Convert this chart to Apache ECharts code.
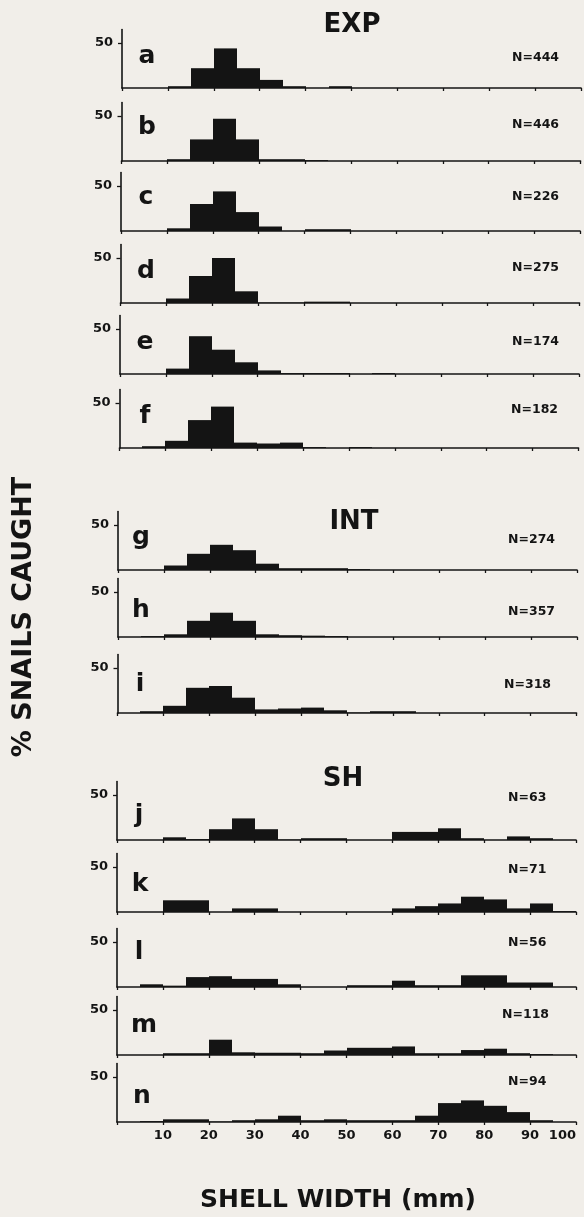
<!DOCTYPE html>
<html>
<head>
<meta charset="utf-8">
<script src="https://cdn.jsdelivr.net/npm/echarts@6/dist/echarts.min.js"></script>
<style>
html,body{margin:0;padding:0;background:#f1eee9;}
#chart{width:584px;height:1217px;}
</style>
</head>
<body>
<div id="chart"></div>
<script>
// ---- DATA ----
// 5-mm shell-width bin edges (mm): bins 0-5 ... 95-100
const binEdges = [0,5,10,15,20,25,30,35,40,45,50,55,60,65,70,75,80,85,90,95,100];
const xTickValues = [10,20,30,40,50,60,70,80,90,100];
const yTickValues = [50];
const groupTitles = ['EXP','INT','SH'];
const panelLetters = ['a','b','c','d','e','f','g','h','i','j','k','l','m','n'];
const sampleSizes = ['N=444','N=446','N=226','N=275','N=174','N=182','N=274','N=357','N=318','N=63','N=71','N=56','N=118','N=94'];

// % snails caught per bin
const panelA = [0,0,2,22,44,22,9,2,0,2,0,0,0,0,0,0,0,0,0,0];
const panelB = [0,0,2,24,47,24,2,2,1,0,0,0,0,0,0,0,0,0,0,0];
const panelC = [0,0,3,30,44,21,5,0,2,2,0,0,0,0,0,0,0,0,0,0];
const panelD = [0,0,5,30,50,13,0.5,0.5,1.5,1.5,0,0,0,0,0,0,0,0,0,0];
const panelE = [0,0,6,42,27,13,4,1,1,1,0,1,0,0,0,0,0,0,0,0];
const panelF = [0,2,8,31,46,6,5,6,1,0,1,0,0,0,0,0,0,0,0,0];
const panelG = [0,0,5,18,28,22,7,2,2,2,1,0,0,0,0,0,0,0,0,0];
const panelH = [0,1,3,18,27,18,3,2,1.5,1,0,0,0,0,0,0,0,0,0,0];
const panelI = [0,2,8,28,30,17,4,5,6,3,0.5,2,2,0,0,0,0,0,0,0];
const panelJ = [0,0,3,1,12,24,12,0.5,2,2,0,0,9,9,13,2,0,4,2,0];
const panelK = [0,0,13,13,0,4,4,0,0,0,0,0,4,6.5,9.5,17,14,4,9.5,1];
const panelL = [0,3,1.5,11,12,9,9,3,0,0,2,2,7,2,2,13,13,5,5,0];
const panelM = [0,0,2,2,17,3,2.5,2.5,2,5,8,8,9.5,2,2,5.5,7,2,1,0];
const panelN = [0,1,3,3,0.5,2,3,7,2,3,2,2,2,7,21,24,18,11,2,0];
const panels = [panelA,panelB,panelC,panelD,panelE,panelF,panelG,panelH,panelI,panelJ,panelK,panelL,panelM,panelN];

// ---- LAYOUT ----
const FONT = 'DejaVu Sans';
const INK = '#141414';
const baselines = [88,161,231,303,374,448,570,637,713,840,912,987,1055,1122];
const lefts = [122,121.5,121,120.5,120,119.5,118,118,117.5,117,117,117,117,117];
const plotW = 459, yMax = 65, plotH = 58.5;
const letterLift = [24,26,26,24,24,24,25,19,21,17,20,27,22,18];
const letterX = [147,147,146,146,145,145,141,141,140,139,140,139,144,142];
const nLift = [30,36,34,35,32,38,30,25,28,42,42,44,40,40];
const nX = [512,512,512,512,512,511,508,508,504,508,508,508,502,508];
const titlePos = [[352,25],[354,522],[343,779]];

// each histogram bin: [left edge, right edge, value]
function binRows(vals) {
  return vals.map((v, k) => [binEdges[k], binEdges[k + 1], v]);
}
function renderBin(params, api) {
  const v = api.value(2);
  if (!(v > 0)) return null;
  const top = api.coord([api.value(0), v]);
  const bot = api.coord([api.value(1), 0]);
  const x0 = Math.round(top[0]), x1 = Math.round(bot[0]);
  return {type: 'rect', shape: {x: x0, y: top[1], width: x1 - x0, height: bot[1] - top[1]},
          style: {fill: INK}};
}

const grid = [], xAxis = [], yAxis = [], series = [], graphic = [];
panels.forEach((vals, i) => {
  const last = i === panels.length - 1;
  grid.push({left: lefts[i], top: baselines[i] - plotH, width: plotW, height: plotH, containLabel: false});
  xAxis.push({
    type: 'value', gridIndex: i, min: 0, max: 100, interval: 10, position: 'bottom', z: 5,
    axisLine: {show: true, onZero: false, lineStyle: {color: INK, width: 1.6}},
    axisTick: {show: true, length: 3, lineStyle: {color: INK, width: 1.3}},
    axisLabel: {show: last, margin: 7, color: INK, fontFamily: FONT, fontWeight: 'bold', fontSize: 13,
                alignMaxLabel: 'right', customValues: xTickValues},
    splitLine: {show: false}
  });
  yAxis.push({
    type: 'value', gridIndex: i, min: 0, max: yMax, z: 5,
    axisLine: {show: true, lineStyle: {color: INK, width: 1.6}},
    axisTick: {show: true, length: 4, customValues: yTickValues, lineStyle: {color: INK, width: 1.3}},
    axisLabel: {show: true, customValues: yTickValues, margin: 9, color: INK,
                fontFamily: FONT, fontWeight: 'bold', fontSize: 13},
    splitLine: {show: false}
  });
  series.push({
    type: 'custom', xAxisIndex: i, yAxisIndex: i, data: binRows(vals),
    encode: {x: [0, 1], y: 2}, renderItem: renderBin, silent: true
  });
  graphic.push({type: 'text', x: letterX[i], y: baselines[i] - letterLift[i] - 8,
    style: {text: panelLetters[i], fill: INK, fontFamily: FONT, fontWeight: 'bold', fontSize: 25,
            align: 'center', verticalAlign: 'middle'}});
  graphic.push({type: 'text', x: nX[i], y: baselines[i] - nLift[i],
    style: {text: sampleSizes[i], fill: INK, fontFamily: FONT, fontWeight: 'bold', fontSize: 12.5,
            align: 'left', verticalAlign: 'middle'}});
});
groupTitles.forEach((t, k) => {
  graphic.push({type: 'text', x: titlePos[k][0], y: titlePos[k][1],
    style: {text: t, fill: INK, fontFamily: FONT, fontWeight: 'bold', fontSize: 26,
            align: 'center', verticalAlign: 'middle'}});
});
graphic.push({type: 'text', x: 24, y: 617, rotation: Math.PI / 2,
  style: {text: '% SNAILS CAUGHT', fill: INK, fontFamily: FONT, fontWeight: 'bold', fontSize: 27,
          align: 'center', verticalAlign: 'middle'}});
graphic.push({type: 'text', x: 338, y: 1200,
  style: {text: 'SHELL WIDTH (mm)', fill: INK, fontFamily: FONT, fontWeight: 'bold', fontSize: 25,
          align: 'center', verticalAlign: 'middle'}});

const chart = echarts.init(document.getElementById('chart'), null, {renderer: 'canvas'});
chart.setOption({
  backgroundColor: '#f1eee9',
  animation: false,
  grid, xAxis, yAxis, series, graphic
});
</script>
</body>
</html>
